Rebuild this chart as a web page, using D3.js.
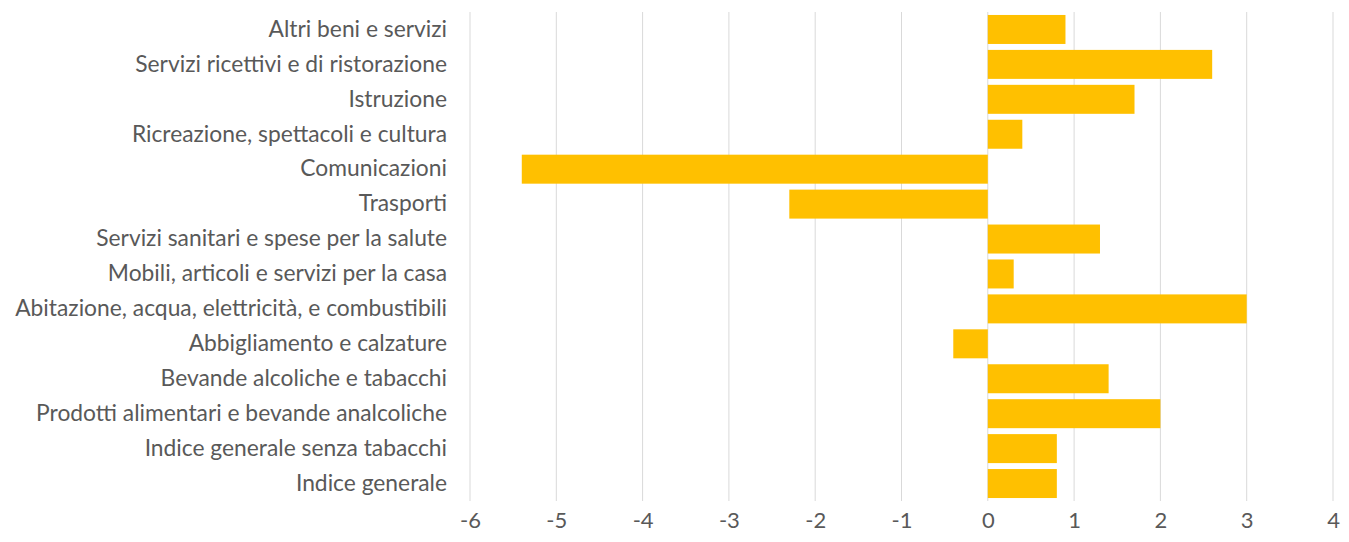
<!DOCTYPE html>
<html>
<head>
<meta charset="utf-8">
<script src="https://cdn.jsdelivr.net/npm/d3@7"></script>
<style>
  body { margin: 0; background: #fff; }
  svg text { font-family: Lato, "Open Sans", sans-serif; fill: #595959; }
</style>
</head>
<body>
<div id="wrapper"></div>
<script>
// data, top to bottom as in the chart
const categories = [
  "Altri beni e servizi",
  "Servizi ricettivi e di ristorazione",
  "Istruzione",
  "Ricreazione, spettacoli e cultura",
  "Comunicazioni",
  "Trasporti",
  "Servizi sanitari e spese per la salute",
  "Mobili, articoli e servizi per la casa",
  "Abitazione, acqua, elettricità, e combustibili",
  "Abbigliamento e calzature",
  "Bevande alcoliche e tabacchi",
  "Prodotti alimentari e bevande analcoliche",
  "Indice generale senza tabacchi",
  "Indice generale"
]
const values = [0.9, 2.6, 1.7, 0.4, -5.4, -2.3, 1.3, 0.3, 3.0, -0.4, 1.4, 2.0, 0.8, 0.8]
const xTicks = [-6, -5, -4, -3, -2, -1, 0, 1, 2, 3, 4]

const dataset = categories.map((c, i) => ({ cat: c, value: values[i] }))

let dimensions = {
  width: 1349,
  height: 542,
  margins: { top: 12, right: 16, bottom: 41, left: 470 },
}
dimensions.boundedWidth = dimensions.width - dimensions.margins.left - dimensions.margins.right
dimensions.boundedHeight = dimensions.height - dimensions.margins.top - dimensions.margins.bottom

const wrapper = d3.select("#wrapper")
  .append("svg")
  .attr("width", dimensions.width)
  .attr("height", dimensions.height)

const bounds = wrapper.append("g")
  .attr("transform", `translate(${dimensions.margins.left},${dimensions.margins.top})`)

const xScale = d3.scaleLinear()
  .domain([-6, 4])
  .range([0, 863])

const yScale = d3.scaleBand()
  .domain(categories)
  .range([0, dimensions.boundedHeight])
  .paddingInner(0.17)
  .paddingOuter(0.085)

// gridlines
bounds.append("g")
  .selectAll("line")
  .data(xTicks)
  .join("line")
  .attr("x1", d => xScale(d))
  .attr("x2", d => xScale(d))
  .attr("y1", 0)
  .attr("y2", dimensions.boundedHeight)
  .attr("stroke", "#d9d9d9")
  .attr("stroke-width", 1)

// bars
bounds.append("g")
  .selectAll("rect")
  .data(dataset)
  .join("rect")
  .attr("x", d => xScale(Math.min(0, d.value)))
  .attr("width", d => Math.abs(xScale(d.value) - xScale(0)))
  .attr("y", d => yScale(d.cat))
  .attr("height", yScale.bandwidth())
  .attr("fill", "#ffc000")

// x axis
const xAxis = bounds.append("g")
  .attr("transform", `translate(0,${dimensions.boundedHeight})`)
  .call(d3.axisBottom(xScale).tickValues(xTicks).tickSize(0).tickPadding(11).tickFormat(d => String(d)))
xAxis.select(".domain").remove()
xAxis.selectAll("text").style("font-size", "22px").attr("fill", "#595959")

// y axis labels
const yAxis = bounds.append("g")
  .call(d3.axisLeft(yScale).tickSize(0).tickPadding(23))
yAxis.select(".domain").remove()
yAxis.selectAll("text").style("font-size", "22.8px").attr("fill", "#595959")
</script>
</body>
</html>
